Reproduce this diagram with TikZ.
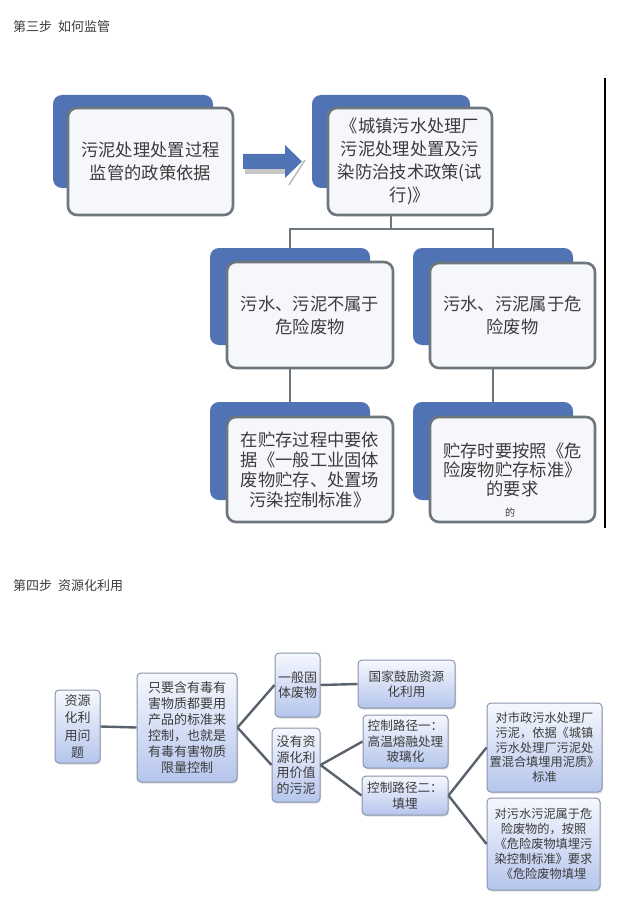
\documentclass[tikz,border=0pt]{standalone}
\usepackage{fontspec}
\setmainfont{Noto Sans CJK SC}
\usetikzlibrary{shadows}
\definecolor{backblue}{HTML}{4F73B5}
\definecolor{frontfill}{HTML}{F6F7FB}
\definecolor{frontline}{HTML}{6E767E}
\definecolor{txt}{HTML}{3C3C3C}
\definecolor{lbtop}{HTML}{F6F8FE}
\definecolor{lbbot}{HTML}{B5C5EC}
\definecolor{lbline}{HTML}{8A94AA}
\definecolor{conn}{HTML}{59626C}
\tikzset{
  backbox/.style={fill=backblue, rounded corners=9pt, draw=none, inner sep=0pt},
  frontbox/.style={fill=frontfill, draw=frontline, line width=2.6pt, rounded corners=9pt,
    align=center, text=txt, font=\fontsize{17.3}{23}\selectfont, inner sep=0pt},
  minibox/.style={top color=lbtop, bottom color=lbbot, draw=lbline, line width=1pt,
    rounded corners=4pt, align=center, text=txt, font=\fontsize{12.6}{15.5}\selectfont,
    inner sep=0pt, drop shadow={shadow xshift=1pt, shadow yshift=-1.5pt, opacity=0.25}},
  treeline/.style={draw=frontline, line width=2.6pt},
  minline/.style={draw=conn, line width=2.4pt},
  titletext/.style={anchor=west, text=txt, font=\fontsize{13}{15}\selectfont, inner sep=0pt}
}
\begin{document}
\begin{tikzpicture}[x=1pt,y=-1pt]
\useasboundingbox (0,0) rectangle (621,901);
% ---------- titles
\node[titletext] (t3) at (13,27) {第三步\hspace{0.45em}如何监管};
\node[titletext] (t4) at (13,586) {第四步\hspace{0.45em}资源化利用};
% ---------- step 3
\node[backbox, minimum width=160pt, minimum height=93pt] (b1back) at (133,141.5) {};
\node[frontbox, minimum width=165pt, minimum height=107pt] (b1) at (150.5,161.5) {污泥处理处置过程\\监管的政策依据};
\node[backbox, minimum width=158pt, minimum height=93pt] (b2back) at (391,141.5) {};
\node[frontbox, minimum width=164pt, minimum height=107pt] (b2) at (410,161.5) {《城镇污水处理厂\\污泥处理处置及污\\染防治技术政策(试\\行)》};
% block arrow
\fill[gray!45] (245,168) -- (285,168) -- (285,174) -- (245,174) -- cycle;
\draw[gray!55, line width=1.5pt] (289,185) -- (305,160);
\fill[backblue] (243,154) -- (285,154) -- (285,145) -- (302,161.5) -- (285,178) -- (285,169) -- (243,169) -- cycle;
% middle boxes
\node[backbox, minimum width=160pt, minimum height=97pt] (m1back) at (290,296.5) {};
\node[frontbox, minimum width=166pt, minimum height=106pt] (m1) at (310,315) {污水、污泥不属于\\危险废物};
\node[backbox, minimum width=160pt, minimum height=97pt] (m2back) at (493,296.5) {};
\node[frontbox, minimum width=165pt, minimum height=105pt] (m2) at (512.5,315.5) {污水、污泥属于危\\险废物};
% bottom boxes
\node[backbox, minimum width=160pt, minimum height=98pt] (l1back) at (290,451) {};
\node[frontbox, minimum width=166pt, minimum height=105pt, font=\fontsize{17.3}{20}\selectfont] (l1) at (310,469.5) {在贮存过程中要依\\据《一般工业固体\\废物贮存、处置场\\污染控制标准》};
\node[backbox, minimum width=160pt, minimum height=98pt] (l2back) at (493,451) {};
\node[frontbox, minimum width=165pt, minimum height=105pt, font=\fontsize{17.3}{19}\selectfont] (l2) at (512.5,469.5) {贮存时要按照《危\\险废物贮存标准》\\的要求};
\node[text=txt, font=\fontsize{10}{10}\selectfont, inner sep=0pt] (l2x) at (510,513) {的};
% tree connectors
\coordinate (j) at (391,229);
\draw[treeline] (j |- b2.south) -- (j);
\draw[treeline] (m1back.north) -- (m1back.north |- j) -- (m2back.north |- j) -- (m2back.north);
\draw[treeline] (l1back.north |- m1.south) -- (l1back.north);
\draw[treeline] (l2back.north |- m2.south) -- (l2back.north);
% right rule
\draw[black, line width=2.6pt] (605,78) -- (605,528);
% ---------- step 4
\node[minibox, minimum width=45pt, minimum height=73pt, font=\fontsize{13}{17.5}\selectfont] (A) at (77.5,726.5) {资源\\化利\\用问\\题};
\node[minibox, minimum width=100pt, minimum height=109pt, font=\fontsize{13}{16}\selectfont] (B) at (187,727.5) {只要含有毒有\\害物质都要用\\产品的标准来\\控制，也就是\\有毒有害物质\\限量控制};
\node[minibox, minimum width=45pt, minimum height=64pt, font=\fontsize{13}{15.5}\selectfont] (C) at (297.5,685) {一般固\\体废物};
\node[minibox, minimum width=48pt, minimum height=74pt, font=\fontsize{13}{15.5}\selectfont] (D) at (296,765) {没有资\\源化利\\用价值\\的污泥};
\node[minibox, minimum width=97pt, minimum height=48pt] (E) at (406.5,684) {国家鼓励资源\\化利用};
\node[minibox, minimum width=85pt, minimum height=53pt] (F) at (405.5,741.5) {控制路径一：\\高温熔融处理\\玻璃化};
\node[minibox, minimum width=86pt, minimum height=39pt] (G) at (405,795.5) {控制路径二：\\填埋};
\node[minibox, minimum width=115pt, minimum height=89pt, font=\fontsize{12.2}{14.8}\selectfont] (H) at (544.5,747.5) {对市政污水处理厂\\污泥，依据《城镇\\污水处理厂污泥处\\置混合填埋用泥质》\\标准};
\node[minibox, minimum width=113pt, minimum height=92pt, font=\fontsize{12.2}{15}\selectfont] (I) at (543.5,844) {对污水污泥属于危\\险废物的，按照\\《危险废物填埋污\\染控制标准》要求\\《危险废物填埋};
\draw[minline] (A.east) -- (B.west);
\draw[minline] (B.east) -- (C.west);
\draw[minline] (B.east) -- (D.west);
\draw[minline] (C.east) -- (E.west);
\draw[minline] (D.east) -- (F.west);
\draw[minline] (D.east) -- (G.west);
\draw[minline] (G.east) -- (H.west);
\draw[minline] (G.east) -- (I.west);
\end{tikzpicture}
\end{document}
